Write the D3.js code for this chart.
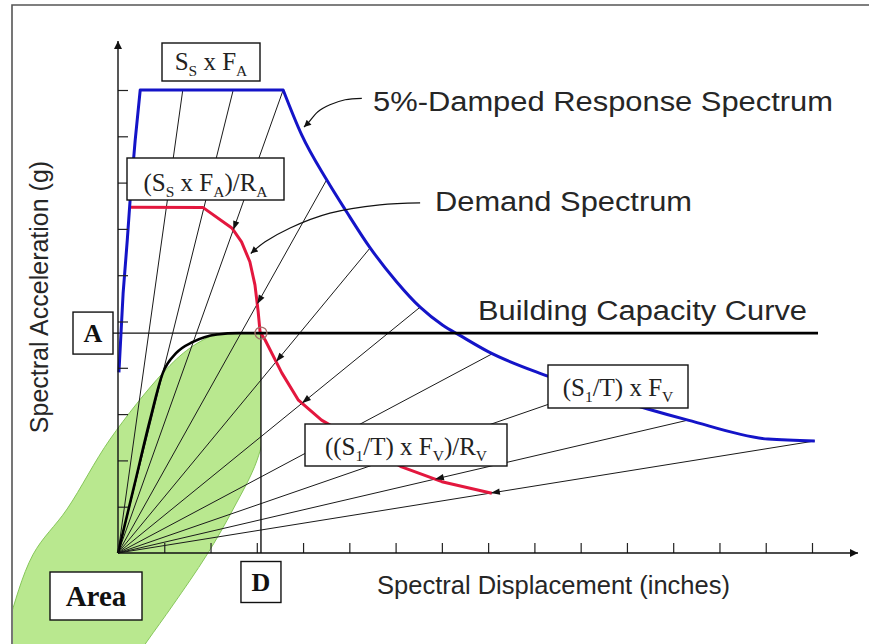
<!DOCTYPE html>
<html>
<head>
<meta charset="utf-8">
<script src="https://cdn.jsdelivr.net/npm/d3@7"></script>
<style>
  body { margin: 0; background: #fff; }
  svg { display: block; }
</style>
</head>
<body>
<script>
// ---- values (Sd in tick units, Sa in tick units) ----
const xTicks = d3.range(1, 16);
const yTicks = d3.range(1, 11);

const responseSpectrum = [
    [0.02, 3.9], [0.11, 5.6], [0.2, 6.75], [0.26, 7.6], [0.37, 8.9], [0.48, 10],
    [3.57, 10], [3.97, 9.03], [4.51, 8.06], [4.94, 7.37], [5.45, 6.59], [6.02, 5.86],
    [6.53, 5.31], [7.02, 4.92], [7.39, 4.7], [8.0, 4.35], [9.29, 3.82], [11.45, 3.11],
    [12.32, 2.87], [14.05, 2.46], [15.06, 2.42]
];
// index of the corner where the plateau ends
const plateauEnd = 6;

const demandSpectrum = [
    [0.28, 7.47], [1.84, 7.46], [2.46, 7.02], [2.67, 6.72], [2.85, 6.29], [2.96, 5.79],
    [3.03, 5.21], [3.07, 4.78], [3.18, 4.6], [3.54, 3.89], [3.9, 3.3], [4.4, 2.87],
    [6.13, 1.86], [7.0, 1.54], [8.08, 1.29]
];

const capacityCurve = [
    [0, 0], [0.35, 1.45], [0.69, 2.87], [0.97, 3.89], [1.26, 4.32], [1.62, 4.56],
    [2.14, 4.72], [2.6, 4.75], [15.13, 4.75]
];

// performance point
const perfA = 4.75;
const perfD = 3.09;

// constant period lines, given by the Sd where they meet the response spectrum
const periodSd = [1.40, 2.49, 3.57, 4.51, 5.45, 6.53, 8.10, 10.2, 12.32, 15.06];
const periodArrow = [0, 0, 1, 1, 1, 1, 1, 1, 1, 1];

// outline of the green "Area" blob
const areaOutline = [
    [2.74, 4.9], [3.24, 4.47], [3.2, 2.85], [3.0, 1.99], [2.49, 0.95], [1.92, -0.04],
    [1.19, -1.12], [0.62, -1.92], [-0.17, -3.06], [-1.25, -3.92], [-2.23, -3.59],
    [-2.66, -2.53], [-2.38, -1.55], [-1.84, -0.04], [-1.1, 0.95], [-0.17, 2.46],
    [0.97, 3.89], [1.56, 4.43], [2.16, 4.75]
];

// curved leaders from the labels
const responseLeader = [[5.27, 9.82], [4.91, 9.79], [4.58, 9.68], [4.32, 9.53], [4.12, 9.3], [4.02, 9.2]];
const demandLeader = [[6.53, 7.56], [5.66, 7.52], [4.58, 7.34], [3.72, 7.02], [3.18, 6.72], [2.87, 6.47]];

// ---- drawing ----
const W = 869, H = 644;
const sans = "'Liberation Sans', Arial, sans-serif";
const serif = "'Liberation Serif', 'Times New Roman', serif";

const x = d3.scaleLinear().domain([0, 15]).range([118, 812]);
const y = d3.scaleLinear().domain([0, 10]).range([553, 90]);

const svg = d3.select("body").append("svg")
    .attr("width", W)
    .attr("height", H);

const defs = svg.append("defs");
function marker(id, w, h) {
    defs.append("marker")
        .attr("id", id)
        .attr("viewBox", "0 0 10 10")
        .attr("refX", 10)
        .attr("refY", 5)
        .attr("markerUnits", "userSpaceOnUse")
        .attr("markerWidth", w)
        .attr("markerHeight", h)
        .attr("orient", "auto")
        .append("path")
        .attr("d", "M0,0 L10,5 L0,10 z")
        .attr("fill", "#111");
}
marker("axisArrow", 11, 8);
marker("leadArrow", 10, 7);

defs.append("clipPath").attr("id", "areaClip")
    .append("rect")
    .attr("x", 13)
    .attr("y", y(perfA))
    .attr("width", x(perfD) - 13)
    .attr("height", H - y(perfA));

// frame
svg.append("path")
    .attr("d", `M12,${H} L12,5 L${W},5`)
    .attr("fill", "none")
    .attr("stroke", "#555")
    .attr("stroke-width", 1.6);

// green area
svg.append("path")
    .datum(areaOutline)
    .attr("clip-path", "url(#areaClip)")
    .attr("d", d3.line().x(d => x(d[0])).y(d => y(d[1])).curve(d3.curveCatmullRomClosed))
    .attr("fill", "#b9e88f")
    .attr("stroke", "#86c65a")
    .attr("stroke-width", 1);

// Sa on the response spectrum for a given Sd
const bis = d3.bisector(d => d[0]).left;
function responseAt(sd) {
    let i = Math.min(Math.max(bis(responseSpectrum, sd), 1), responseSpectrum.length - 1);
    const a = responseSpectrum[i - 1], b = responseSpectrum[i];
    return a[1] + (b[1] - a[1]) * (sd - a[0]) / (b[0] - a[0]);
}

const periodLines = periodSd.map((sd, i) => ({ sd: sd, sa: responseAt(sd), arrow: periodArrow[i] }));

svg.append("g")
    .selectAll("line")
    .data(periodLines)
    .join("line")
    .attr("x1", x(0))
    .attr("y1", y(0))
    .attr("x2", d => x(d.sd))
    .attr("y2", d => y(d.sa))
    .attr("stroke", "#1a1a1a")
    .attr("stroke-width", 1);

// thin reference lines for A and D
svg.append("line")
    .attr("x1", x(0) - 5).attr("y1", y(perfA))
    .attr("x2", x(perfD)).attr("y2", y(perfA))
    .attr("stroke", "#111").attr("stroke-width", 1.3);
svg.append("line")
    .attr("x1", x(perfD)).attr("y1", y(perfA))
    .attr("x2", x(perfD)).attr("y2", y(0))
    .attr("stroke", "#111").attr("stroke-width", 1.4);

const lineGen = d3.line().x(d => x(d[0])).y(d => y(d[1]));
const smoothGen = d3.line().x(d => x(d[0])).y(d => y(d[1])).curve(d3.curveMonotoneX);

// demand spectrum
svg.append("path")
    .datum(demandSpectrum)
    .attr("d", lineGen)
    .attr("fill", "none")
    .attr("stroke", "#e3173e")
    .attr("stroke-width", 3)
    .attr("stroke-linejoin", "round");

// response spectrum: straight up to the plateau corner, smooth decay after it
svg.append("path")
    .datum(responseSpectrum)
    .attr("d", d => lineGen(d.slice(0, plateauEnd + 1)) + "L" + smoothGen(d.slice(plateauEnd)).slice(1))
    .attr("fill", "none")
    .attr("stroke", "#1414c8")
    .attr("stroke-width", 3)
    .attr("stroke-linejoin", "round");

// capacity curve
svg.append("path")
    .datum(capacityCurve)
    .attr("d", smoothGen)
    .attr("fill", "none")
    .attr("stroke", "#000")
    .attr("stroke-width", 2.6);

// arrowheads where each period line meets the demand spectrum
function crossDemand(d) {
    const ox = x(0), oy = y(0);
    const ex = x(d.sd), ey = y(d.sa);
    const ux = ex - ox, uy = ey - oy;
    const pts = demandSpectrum.map(p => [x(p[0]), y(p[1])]);
    const cross = (ax, ay, bx, by) => ax * by - ay * bx;
    for (let i = 0; i < pts.length - 1; i++) {
        const c0 = cross(ux, uy, pts[i][0] - ox, pts[i][1] - oy);
        const c1 = cross(ux, uy, pts[i + 1][0] - ox, pts[i + 1][1] - oy);
        if (c0 * c1 <= 0 && c0 !== c1) {
            const s = c0 / (c0 - c1);
            return [pts[i][0] + s * (pts[i + 1][0] - pts[i][0]), pts[i][1] + s * (pts[i + 1][1] - pts[i][1])];
        }
    }
    // past the end of the curve: use the point on the line nearest the last vertex
    const last = pts[pts.length - 1];
    const t = ((last[0] - ox) * ux + (last[1] - oy) * uy) / (ux * ux + uy * uy);
    return [ox + t * ux, oy + t * uy];
}

svg.append("g")
    .selectAll("path")
    .data(periodLines.filter(d => d.arrow))
    .join("path")
    .attr("d", "M0,0 L9,-3.2 L9,3.2 Z")
    .attr("fill", "#111")
    .attr("transform", d => {
        const p = crossDemand(d);
        const ang = Math.atan2(y(d.sa) - y(0), x(d.sd) - x(0)) * 180 / Math.PI;
        return `translate(${p[0]},${p[1]}) rotate(${ang})`;
    });

// performance point marker
svg.append("circle")
    .attr("cx", x(perfD))
    .attr("cy", y(perfA))
    .attr("r", 6)
    .attr("fill", "none")
    .attr("stroke", "#a4706a")
    .attr("stroke-width", 1.3);

// axes
const gx = svg.append("g")
    .attr("transform", `translate(0,${y(0)})`)
    .call(d3.axisTop(x).tickValues(xTicks).tickSize(10).tickFormat(""));
gx.select(".domain").remove();
gx.selectAll(".tick line").attr("stroke", "#222").attr("stroke-width", 1.2);

const gy = svg.append("g")
    .attr("transform", `translate(${x(0)},0)`)
    .call(d3.axisRight(y).tickValues(yTicks).tickSize(10).tickFormat(""));
gy.select(".domain").remove();
gy.selectAll(".tick line").attr("stroke", "#222").attr("stroke-width", 1.2);

svg.append("line")
    .attr("x1", x(0)).attr("y1", y(0))
    .attr("x2", 858).attr("y2", y(0))
    .attr("stroke", "#111").attr("stroke-width", 1.4)
    .attr("marker-end", "url(#axisArrow)");
svg.append("line")
    .attr("x1", x(0)).attr("y1", y(0))
    .attr("x2", x(0)).attr("y2", 41)
    .attr("stroke", "#111").attr("stroke-width", 1.4)
    .attr("marker-end", "url(#axisArrow)");

// leaders
const leadGen = d3.line().x(d => x(d[0])).y(d => y(d[1])).curve(d3.curveCatmullRom);
[responseLeader, demandLeader].forEach(pts => {
    svg.append("path")
        .datum(pts)
        .attr("d", leadGen)
        .attr("fill", "none")
        .attr("stroke", "#111")
        .attr("stroke-width", 1.2)
        .attr("marker-end", "url(#leadArrow)");
});

// boxes with labels
function box(x0, y0, w, h) {
    svg.append("rect")
        .attr("x", x0).attr("y", y0)
        .attr("width", w).attr("height", h)
        .attr("fill", "#fff")
        .attr("stroke", "#111")
        .attr("stroke-width", 1.4);
}

function subText(cx, by, parts, size) {
    const t = svg.append("text")
        .attr("x", cx)
        .attr("y", by)
        .attr("text-anchor", "middle")
        .attr("font-family", serif)
        .attr("font-size", size)
        .attr("fill", "#222");
    let low = false;
    parts.forEach(p => {
        const isSub = p[1] === 1;
        const ts = t.append("tspan").text(p[0]);
        if (isSub && !low) { ts.attr("dy", 6).attr("font-size", size * 0.62); low = true; }
        else if (isSub) { ts.attr("font-size", size * 0.62); }
        else if (low) { ts.attr("dy", -6); low = false; }
    });
}

box(162, 43, 98, 38);
subText(211, 70, [["S", 0], ["S", 1], [" x F", 0], ["A", 1]], 25);

box(127, 158, 157, 42);
subText(205.5, 191, [["(S", 0], ["S", 1], [" x F", 0], ["A", 1], [")/R", 0], ["A", 1]], 25);

box(548, 365, 140, 43);
subText(618, 396, [["(S", 0], ["1", 1], ["/T) x F", 0], ["V", 1]], 25);

box(305, 424, 202, 42);
subText(406, 455, [["((S", 0], ["1", 1], ["/T) x F", 0], ["V", 1], [")/R", 0], ["V", 1]], 25);

function boldBox(cx, cy, w, h, label, size) {
    box(cx - w / 2, cy - h / 2, w, h);
    svg.append("text")
        .attr("x", cx)
        .attr("y", cy)
        .attr("dy", "0.34em")
        .attr("text-anchor", "middle")
        .attr("font-family", serif)
        .attr("font-weight", "bold")
        .attr("font-size", size)
        .attr("fill", "#111")
        .text(label);
}
boldBox(x(0) - 25, y(perfA), 40, 42, "A", 26);
boldBox(x(perfD), y(0) + 29, 40, 41, "D", 26);
boldBox(96, 596, 92, 48, "Area", 29);

// plain labels
function label(x0, base, str, len, size) {
    svg.append("text")
        .attr("x", x0)
        .attr("y", base)
        .attr("font-family", sans)
        .attr("font-size", size)
        .attr("fill", "#262626")
        .attr("textLength", len)
        .attr("lengthAdjust", "spacingAndGlyphs")
        .text(str);
}
label(373, 111, "5%-Damped Response Spectrum", 460, 27);
label(435, 211, "Demand Spectrum", 257, 27);
label(478, 320, "Building Capacity Curve", 329, 27);
label(377, 594, "Spectral Displacement (inches)", 353, 25);

svg.append("text")
    .attr("transform", "translate(48,297) rotate(-90)")
    .attr("text-anchor", "middle")
    .attr("font-family", sans)
    .attr("font-size", 25)
    .attr("fill", "#262626")
    .text("Spectral Acceleration (g)");
</script>
</body>
</html>
